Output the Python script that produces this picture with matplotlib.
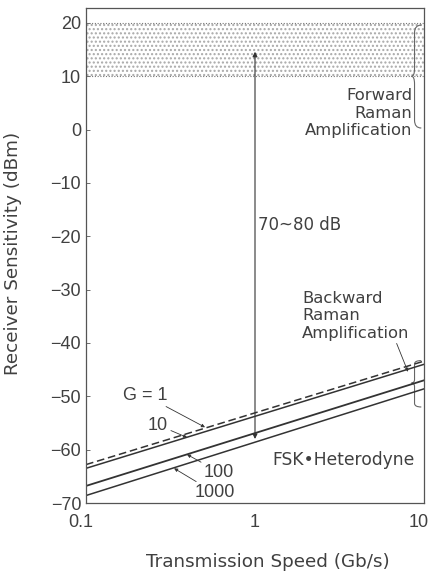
import numpy as np
import matplotlib
matplotlib.use("Agg")
import matplotlib.pyplot as plt
from matplotlib.path import Path
from matplotlib.patches import PathPatch
import matplotlib.transforms as mtransforms

# ---- data ----
speed = [0.1, 10]                       # Gb/s
sens_G1 = [-62.8, -43.4]                 # dBm
sens_G10 = [-63.5, -44.0]
sens_G100 = [-66.8, -47.0]
sens_G1000 = [-68.6, -48.6]
forward_band = [10, 20]                  # dBm
arrow_span = [14.6, -58.0]               # dBm at 1 Gb/s
x_ticks = [0.1, 1, 10]
x_ticklabels = ["0.1", "1", "10"]
y_ticks = [20, 10, 0, -10, -20, -30, -40, -50, -60, -70]
y_ticklabels = ["20", "10", "0", "\u221210", "\u221220", "\u221230", "\u221240", "\u221250", "\u221260", "\u221270"]

plt.rcParams['font.family'] = ['DejaVu Sans']
NARROW = ['Liberation Sans Narrow', 'Liberation Sans', 'DejaVu Sans']
C = '#333333'
TC = '#404040'

fig = plt.figure(figsize=(4.30, 5.72), dpi=100)
ax = fig.add_axes([86/430, 1-503/572, 338/430, 495/572])
ax.set_xscale('log')
ax.set_xlim(0.1, 10)
ax.set_ylim(-70, 22.8)

# shaded forward Raman band
ax.fill_between([0.1, 10], forward_band[0], forward_band[1], facecolor='none',
                edgecolor='#a8a8a8', hatch='....', linewidth=0)
for yb in forward_band:
    ax.axhline(yb, color='#777777', lw=0.8, ls=(0, (1, 1.5)))

# lines
ax.plot(speed, sens_G1, color=C, lw=1.1, ls=(0, (5, 2.5)))
ax.plot(speed, sens_G10, color=C, lw=1.1)
ax.plot(speed, sens_G100, color=C, lw=1.3)
ax.plot(speed, sens_G1000, color=C, lw=1.1)

# double arrow 70~80 dB
ax.annotate('', xy=(1, arrow_span[0]), xytext=(1, arrow_span[1]),
            arrowprops=dict(arrowstyle='<|-|>', color=C, lw=0.8,
                            mutation_scale=7, shrinkA=0, shrinkB=0))
ax.text(1.04, -17.9, '70~80 dB', fontsize=12, color=TC, ha='left', va='center')

# curve labels
ann = dict(arrowstyle='-|>', color=C, lw=0.6, mutation_scale=5, shrinkA=0, shrinkB=0)
ax.annotate('G = 1', xy=(0.506, -55.8), xytext=(0.223, -49.8), fontsize=13,
            family=NARROW, color=TC, ha='center', va='center', arrowprops=ann)
ax.annotate('10', xy=(0.396, -57.7), xytext=(0.267, -55.4), fontsize=13,
            family=NARROW, color=TC, ha='center', va='center', arrowprops=ann)
ax.annotate('100', xy=(0.396, -60.9), xytext=(0.612, -64.2), fontsize=13,
            family=NARROW, color=TC, ha='center', va='center', arrowprops=ann)
ax.annotate('1000', xy=(0.332, -63.5), xytext=(0.58, -68.1), fontsize=13,
            family=NARROW, color=TC, ha='center', va='center', arrowprops=ann)

ax.text(8.85, -61.9, 'FSK\u2022Heterodyne', fontsize=12.3, color=TC, ha='right', va='center')
ax.text(8.5, 3.1, 'Forward\nRaman\nAmplification', fontsize=11.8, color=TC,
        ha='right', va='center', multialignment='right', linespacing=1.2)
ax.annotate('Backward\nRaman\nAmplification', xy=(8.04, -45.4), xytext=(1.9, -34.9),
            fontsize=11.8, color=TC, ha='left', va='center', multialignment='left',
            linespacing=1.2,
            arrowprops=dict(arrowstyle='-|>', color=C, lw=0.6, mutation_scale=5,
                            shrinkA=0, shrinkB=0, relpos=(0.87, 0.0)))

# braces (x in axes fraction, y in data)
trans = mtransforms.blended_transform_factory(ax.transAxes, ax.transData)
def brace(y0, ytip, y1, xo=0.992, xi=0.972, xt=0.963):
    verts = [(xo, y0), (xi, y0), (xi, y0 + (ytip - y0) * 0.15), (xi, y0 + (ytip - y0) * 0.5),
             (xi, ytip - (ytip - y0) * 0.15), (xi, ytip), (xt, ytip),
             (xi, ytip), (xi, ytip + (y1 - ytip) * 0.15), (xi, ytip + (y1 - ytip) * 0.5),
             (xi, y1 - (y1 - ytip) * 0.15), (xi, y1), (xo, y1)]
    codes = [Path.MOVETO, Path.CURVE3, Path.CURVE3, Path.LINETO,
             Path.LINETO, Path.CURVE3, Path.CURVE3,
             Path.CURVE3, Path.CURVE3, Path.LINETO,
             Path.LINETO, Path.CURVE3, Path.CURVE3]
    p = PathPatch(Path(verts, codes), transform=trans, fill=False, edgecolor='#666666',
                  lw=0.8, clip_on=False)
    ax.add_patch(p)
brace(19.6, 10.0, 0.3)
brace(-43.3, -47.5, -52.0)

# axes styling
ax.set_xticks(x_ticks)
ax.set_xticklabels(x_ticklabels)
ax.xaxis.set_minor_locator(matplotlib.ticker.NullLocator())
ax.set_yticks(y_ticks)
ax.set_yticklabels(y_ticklabels)
ax.tick_params(axis='both', direction='in', length=3, width=0.6, colors='#555555',
               labelsize=13, labelcolor=TC)
ax.tick_params(axis='x', length=0, pad=8)
for lab in ax.get_xticklabels() + ax.get_yticklabels():
    lab.set_family(NARROW)
xl = ax.get_xticklabels()
shifts = [-5, 0, -5]
for lab, dx in zip(xl, shifts):
    lab.set_transform(lab.get_transform() +
                      mtransforms.ScaledTranslation(dx / 100, 0, fig.dpi_scale_trans))
for s in ax.spines.values():
    s.set_color('#555555')
    s.set_linewidth(0.9)

ax.set_xlabel('Transmission Speed (Gb/s)', fontsize=13.2, color=TC, va='center')
ax.xaxis.set_label_coords((268 - 86) / 338, (503 - 562) / 495)
ax.set_ylabel('Receiver Sensitivity (dBm)', fontsize=13.2, color=TC, va='center')
ax.yaxis.set_label_coords((13 - 86) / 338, (503 - 253) / 495)

fig.savefig('out.png', dpi=100)
